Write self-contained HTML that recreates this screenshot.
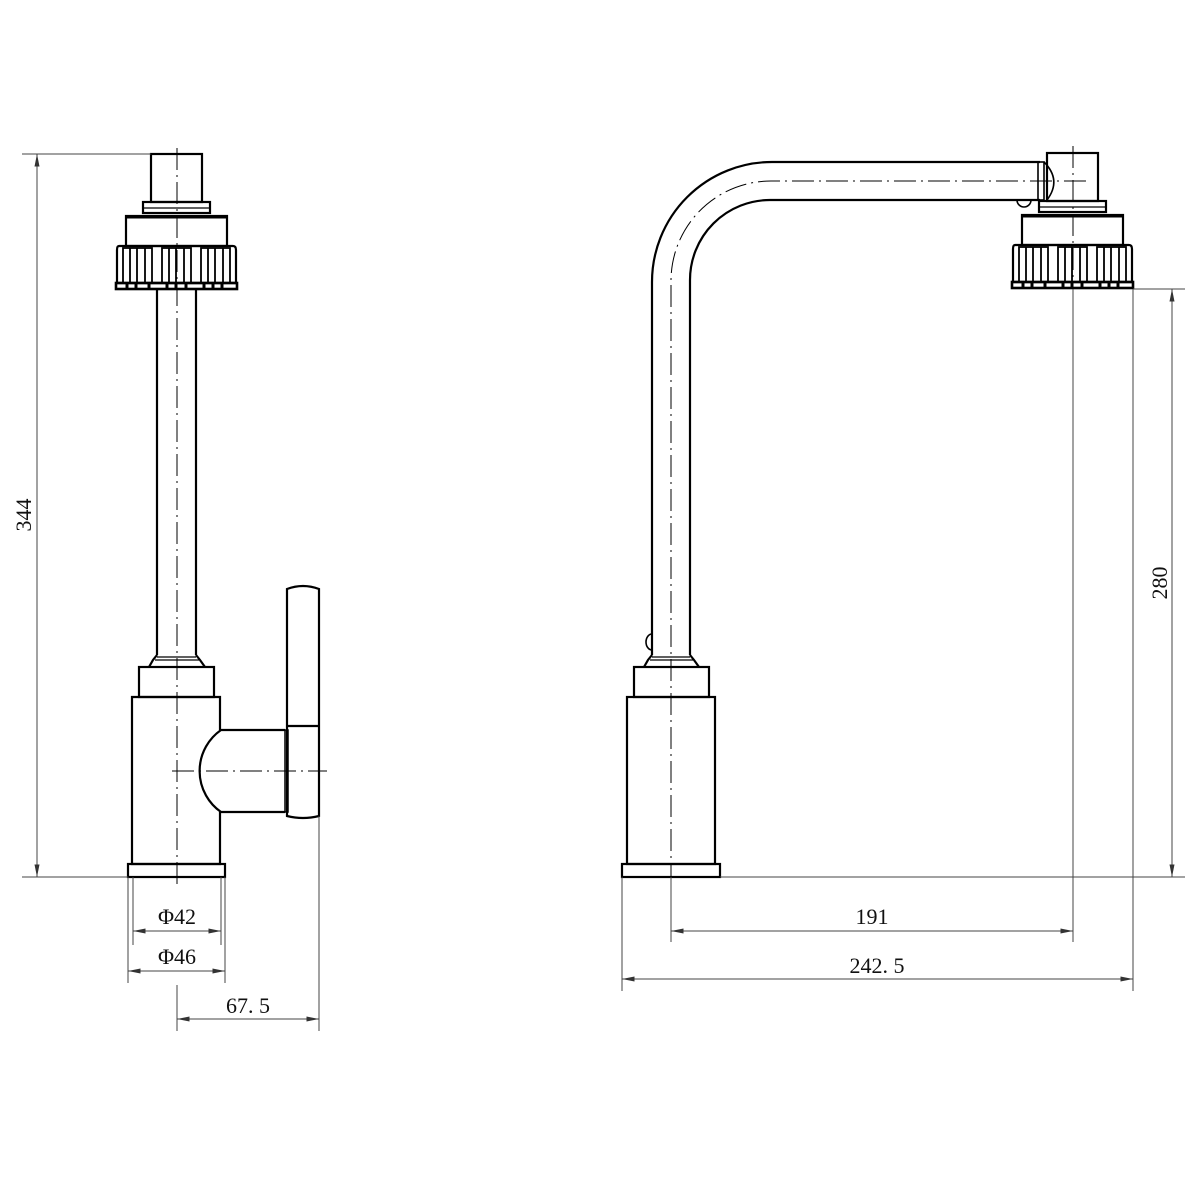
<!DOCTYPE html>
<html><head><meta charset="utf-8"><style>html,body{margin:0;padding:0;background:#fff}svg{display:block}</style></head><body>
<svg width="1200" height="1200" viewBox="0 0 1200 1200" xmlns="http://www.w3.org/2000/svg">
<defs>
<marker id="a" viewBox="0 0 10 4" refX="10" refY="2" markerWidth="14" markerHeight="5" markerUnits="userSpaceOnUse" orient="auto-start-reverse"><path d="M0,0 L10,2 L0,4 Z" fill="#333"/></marker>
<g id="head" fill="none" stroke="#000" stroke-width="2.2">
<rect x="-26" y="154" width="51" height="48"/>
<rect x="-34" y="202" width="67" height="11"/>
<line x1="-34" y1="208" x2="33" y2="208" stroke-width="1.2"/>
<rect x="-51" y="216" width="101" height="30" stroke-width="2.2"/>
<line x1="-51" y1="217" x2="50" y2="217" stroke-width="3"/>
<path d="M-58,246 Q-60,246 -60,250 L-60,283 L59,283 L59,250 Q59,246 56,246 Z"/>
<rect x="-61" y="283" width="121" height="6" stroke-width="2.6"/>
<g stroke-width="1.8">
<rect x="-54" y="248" width="29" height="35"/><line x1="-47" y1="248" x2="-47" y2="283"/><line x1="-40" y1="248" x2="-40" y2="283"/><line x1="-32" y1="248" x2="-32" y2="283"/>
<rect x="-15" y="248" width="29" height="35"/><line x1="-8" y1="248" x2="-8" y2="283"/><line x1="-1" y1="248" x2="-1" y2="283"/><line x1="7" y1="248" x2="7" y2="283"/>
<rect x="24" y="248" width="29" height="35"/><line x1="31" y1="248" x2="31" y2="283"/><line x1="38" y1="248" x2="38" y2="283"/><line x1="46" y1="248" x2="46" y2="283"/>
</g>
<g stroke-width="3">
<line x1="-50" y1="283" x2="-50" y2="289"/><line x1="-41" y1="283" x2="-41" y2="289"/><line x1="-28" y1="283" x2="-28" y2="289"/><line x1="-10" y1="283" x2="-10" y2="289"/><line x1="-1" y1="283" x2="-1" y2="289"/><line x1="9" y1="283" x2="9" y2="289"/><line x1="27" y1="283" x2="27" y2="289"/><line x1="36" y1="283" x2="36" y2="289"/><line x1="45" y1="283" x2="45" y2="289"/>
</g>
</g>
</defs>

<!-- LEFT FAUCET -->
<use href="#head" x="177"/>
<g fill="none" stroke="#000" stroke-width="2.2">
<line x1="157" y1="289" x2="157" y2="655"/><line x1="196" y1="289" x2="196" y2="655"/>
<path d="M157,655 L153,660 L149,667 M196,655 L200,660 L205,667"/>
<line x1="157" y1="657" x2="196" y2="657" stroke-width="1.2"/><line x1="155" y1="660" x2="199" y2="660" stroke-width="1.2"/>
<rect x="139" y="667" width="75" height="30"/>
<path d="M220,730 L220,697 L132,697 L132,864 L220,864 L220,812"/>
<rect x="128" y="864" width="97" height="13"/>
<path d="M285,730 L221,730 A50,50 0 0 0 221,812 L285,812"/>
<rect x="285" y="730" width="3" height="82" stroke-width="1.5"/>
<path d="M287,816 L287,589 Q303,583 319,589 L319,816 Q303,820 287,816 Z"/>
<line x1="287" y1="726" x2="319" y2="726"/>
</g>
<g stroke="#000" stroke-width="1" stroke-dasharray="22,5,2,5" fill="none">
<line x1="177" y1="148" x2="177" y2="885"/>
<line x1="172" y1="771" x2="327" y2="771"/>
</g>

<!-- RIGHT FAUCET -->
<use href="#head" x="1073" y="-1"/>
<g fill="none" stroke="#000" stroke-width="2.2">
<path d="M652,655 L652,282 A120,120 0 0 1 772,162 L1040,162"/>
<path d="M690,655 L690,280 A80,80 0 0 1 770,200 L1040,200"/>
<rect x="1038" y="162" width="6" height="38" stroke-width="1.6"/>
<path d="M1044,162 Q1062,180 1047,200" stroke-width="1.6"/>
<path d="M1017,200 A7,7 0 0 0 1031,200" stroke-width="1.6"/>
<path d="M652,655 L648,660 L644,667 M690,655 L694,660 L699,667"/>
<line x1="652" y1="657" x2="690" y2="657" stroke-width="1.2"/><line x1="650" y1="660" x2="693" y2="660" stroke-width="1.2"/>
<path d="M652,634 A6,8 0 0 0 652,650" stroke-width="1.6"/>
<rect x="634" y="667" width="75" height="30"/>
<rect x="627" y="697" width="88" height="167"/>
<rect x="622" y="864" width="98" height="13"/>
</g>
<g stroke="#000" stroke-width="1" stroke-dasharray="22,5,2,5" fill="none">
<path d="M671,885 L671,281 A100,100 0 0 1 771,181 L1090,181"/>
<line x1="1073" y1="146" x2="1073" y2="300"/>
</g>

<!-- DIMENSIONS -->
<g stroke="#444" stroke-width="1" fill="none">
<line x1="22" y1="154" x2="151" y2="154"/><line x1="22" y1="877" x2="128" y2="877"/>
<line x1="37" y1="154" x2="37" y2="877" marker-start="url(#a)" marker-end="url(#a)"/>
<line x1="133" y1="877" x2="133" y2="945"/><line x1="221" y1="877" x2="221" y2="945"/>
<line x1="133" y1="931" x2="221" y2="931" marker-start="url(#a)" marker-end="url(#a)"/>
<line x1="128" y1="877" x2="128" y2="983"/><line x1="225" y1="877" x2="225" y2="983"/>
<line x1="128" y1="971" x2="225" y2="971" marker-start="url(#a)" marker-end="url(#a)"/>
<line x1="177" y1="985" x2="177" y2="1031"/><line x1="319" y1="816" x2="319" y2="1031"/>
<line x1="177" y1="1019" x2="319" y2="1019" marker-start="url(#a)" marker-end="url(#a)"/>
<line x1="1133" y1="289" x2="1185" y2="289"/><line x1="720" y1="877" x2="1185" y2="877"/>
<line x1="1172" y1="289" x2="1172" y2="877" marker-start="url(#a)" marker-end="url(#a)"/>
<line x1="671" y1="877" x2="671" y2="942"/><line x1="1073" y1="289" x2="1073" y2="942"/>
<line x1="671" y1="931" x2="1073" y2="931" marker-start="url(#a)" marker-end="url(#a)"/>
<line x1="622" y1="877" x2="622" y2="991"/><line x1="1133" y1="289" x2="1133" y2="991"/>
<line x1="622" y1="979" x2="1133" y2="979" marker-start="url(#a)" marker-end="url(#a)"/>
</g>
<g font-family="Liberation Serif, serif" font-size="22" fill="#111" text-anchor="middle">
<text x="177" y="924">Φ42</text>
<text x="177" y="964">Φ46</text>
<text x="248" y="1013">67. 5</text>
<text x="872" y="924">191</text>
<text x="877" y="973">242. 5</text>
<text transform="translate(31,515) rotate(-90)">344</text>
<text transform="translate(1167,583) rotate(-90)">280</text>
</g>
</svg>
</body></html>
